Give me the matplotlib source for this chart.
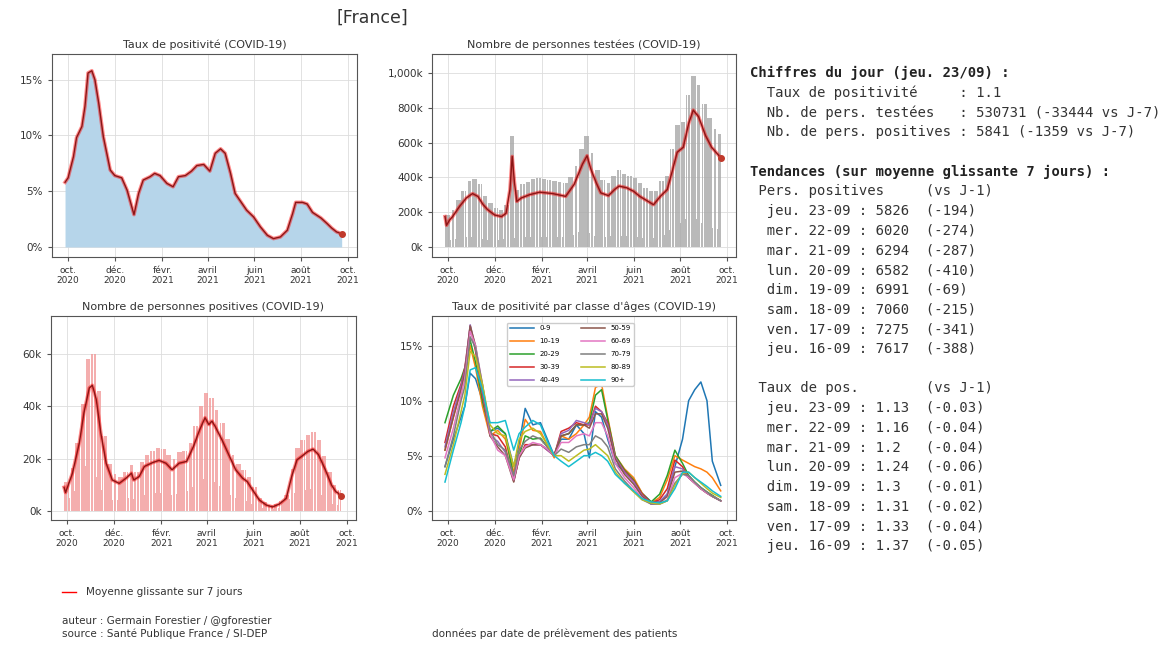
import numpy as np
import pandas as pd
import matplotlib
matplotlib.use("Agg")
import matplotlib.pyplot as plt
from matplotlib.lines import Line2D
from matplotlib.ticker import FuncFormatter

# ---- data ----
start_day = "2020-09-27"   # Sunday
end_day = "2021-09-23"     # Thursday

# weekly levels (weeks start on Sunday), thousands
tests_wd = [185, 215, 270, 320, 380, 390, 360, 295, 255, 225, 215, 240, 640, 330,
            360, 375, 390, 395, 390, 385, 380, 372, 365, 400, 465, 560, 640, 540,
            440, 385, 370, 410, 440, 420, 410, 395, 365, 340, 320, 320, 380, 410,
            560, 700, 720, 870, 980, 930, 820, 740, 680, 650]
tests_sun = [35, 40, 45, 50, 60, 60, 55, 45, 40, 40, 40, 45, 60, 50, 55, 58, 60, 60,
             60, 60, 58, 58, 56, 60, 70, 85, 90, 80, 65, 60, 58, 62, 66, 64, 62, 60,
             56, 52, 50, 50, 60, 70, 100, 130, 140, 160, 170, 160, 140, 120, 110, 105]
pos_wd = [11, 16.5, 26, 41, 58, 60, 46, 28.5, 18, 14, 13, 15, 17.5, 15, 18.5, 21.5,
          23, 24, 23.5, 21.5, 20, 22.5, 23, 26, 32.5, 40, 45, 43, 38.5, 33.5, 27.5,
          21.5, 18, 15.5, 13, 9, 5, 3.2, 2.1, 2.5, 3.7, 6.2, 16, 24, 27, 29, 30, 27,
          21, 15, 10, 7.8]
pos_sun = [3.5, 5, 7.5, 12, 17, 17, 13, 8, 5, 4, 4, 4.5, 5, 4.5, 5.5, 6, 6.5, 7, 7,
           6, 6, 6.5, 6.5, 7.5, 9, 11, 12, 12, 11, 9.5, 8, 6, 5, 4.5, 3.7, 2.5, 1.5,
           0.9, 0.6, 0.7, 1, 1.8, 4.5, 7, 7.5, 8, 8.5, 7.5, 6, 4.2, 2.8, 2.2]

# 7-day averages (date, value)
rate_dates = ["2020-09-27", "2020-10-01", "2020-10-08", "2020-10-12", "2020-10-19",
              "2020-10-23", "2020-10-27", "2020-11-01", "2020-11-05", "2020-11-10",
              "2020-11-16", "2020-11-25", "2020-12-01", "2020-12-10", "2020-12-17",
              "2020-12-26", "2021-01-01", "2021-01-07", "2021-01-16", "2021-01-22",
              "2021-01-29", "2021-02-07", "2021-02-15", "2021-02-22", "2021-03-03",
              "2021-03-11", "2021-03-18", "2021-03-27", "2021-04-04", "2021-04-11",
              "2021-04-18", "2021-04-24", "2021-05-01", "2021-05-07", "2021-05-14",
              "2021-05-22", "2021-05-31", "2021-06-09", "2021-06-18", "2021-06-26",
              "2021-07-05", "2021-07-14", "2021-07-21", "2021-07-25", "2021-08-03",
              "2021-08-09", "2021-08-16", "2021-08-27", "2021-09-04", "2021-09-10"]
rate_avg = [5.8, 6.2, 8.1, 9.8, 10.8, 12.6, 15.6, 15.8, 15.0, 12.9, 9.9, 6.9, 6.4, 6.2,
            5.1, 2.9, 4.8, 6.0, 6.3, 6.6, 6.4, 5.7, 5.4, 6.3, 6.4, 6.8, 7.3, 7.4, 6.8,
            8.4, 8.8, 8.4, 6.6, 4.8, 4.1, 3.3, 2.7, 1.8, 1.05, 0.75, 0.9, 1.5, 3.0, 4.0,
            4.0, 3.85, 3.1, 2.6, 2.1, 1.7]

tests_dates = ["2020-09-27", "2020-09-29", "2020-10-03", "2020-10-07", "2020-10-16",
               "2020-10-25", "2020-11-02", "2020-11-09", "2020-11-16", "2020-11-22",
               "2020-12-01", "2020-12-10", "2020-12-16", "2020-12-21", "2020-12-24",
               "2020-12-27", "2020-12-30", "2021-01-05", "2021-01-16", "2021-01-29",
               "2021-02-15", "2021-03-04", "2021-03-15", "2021-03-26", "2021-04-01",
               "2021-04-06", "2021-04-13", "2021-04-19", "2021-04-29", "2021-05-07",
               "2021-05-13", "2021-05-23", "2021-06-01", "2021-06-09", "2021-06-20",
               "2021-06-27", "2021-07-06", "2021-07-15", "2021-07-21", "2021-07-28",
               "2021-08-05", "2021-08-12", "2021-08-18", "2021-08-25", "2021-09-03",
               "2021-09-11", "2021-09-20", "2021-09-23"]
tests_avg = [175, 125, 155, 175, 233, 282, 307, 291, 243, 214, 184, 175, 194, 330, 520,
             369, 262, 282, 301, 315, 307, 291, 359, 476, 524, 447, 369, 311, 295, 330,
             350, 340, 320, 291, 262, 243, 291, 330, 427, 544, 573, 709, 786, 748, 641,
             573, 528, 510]

pos_dates = ["2020-09-27", "2020-09-29", "2020-10-08", "2020-10-17", "2020-10-23",
             "2020-10-30", "2020-11-03", "2020-11-08", "2020-11-14", "2020-11-21",
             "2020-11-29", "2020-12-08", "2020-12-17", "2020-12-24", "2020-12-27",
             "2021-01-03", "2021-01-10", "2021-01-21", "2021-01-29", "2021-02-07",
             "2021-02-15", "2021-02-24", "2021-03-06", "2021-03-15", "2021-03-23",
             "2021-03-30", "2021-04-04", "2021-04-08", "2021-04-12", "2021-04-21",
             "2021-05-01", "2021-05-09", "2021-05-18", "2021-05-24", "2021-05-31",
             "2021-06-09", "2021-06-18", "2021-06-26", "2021-07-05", "2021-07-14",
             "2021-07-21", "2021-07-28", "2021-08-03", "2021-08-11", "2021-08-18",
             "2021-08-25", "2021-09-03", "2021-09-11"]
pos_avg = [9, 7, 14.4, 26, 37.5, 47, 48, 42.7, 29.8, 18.2, 11.8, 10.5, 12.5, 14.4, 11.8,
           13.1, 17, 18.5, 19.3, 18.2, 15.7, 18.2, 18.9, 24.7, 31, 35.6, 33, 34.3, 32.4,
           27.2, 20.8, 15.7, 12.5, 11.2, 8, 4.1, 2.2, 1.5, 2.6, 4.8, 13.1, 19.5, 20.8,
           22.7, 23.6, 21.5, 15.7, 9.9]

# age groups, positivity (%)
age_dates = ["2020-09-27", "2020-10-08", "2020-10-18", "2020-10-23", "2020-10-30",
             "2020-11-06", "2020-11-15", "2020-11-25", "2020-12-05", "2020-12-15",
             "2020-12-26", "2021-01-02", "2021-01-10", "2021-01-20", "2021-01-30",
             "2021-02-08", "2021-02-17", "2021-02-26", "2021-03-08", "2021-03-18",
             "2021-03-28", "2021-04-04", "2021-04-12", "2021-04-20", "2021-04-28",
             "2021-05-08", "2021-05-20", "2021-06-01", "2021-06-12", "2021-06-24",
             "2021-07-05", "2021-07-15", "2021-07-25", "2021-08-04", "2021-08-12",
             "2021-08-20", "2021-08-28", "2021-09-05", "2021-09-12", "2021-09-23"]
age_labels = ["0-9", "10-19", "20-29", "30-39", "40-49",
              "50-59", "60-69", "70-79", "80-89", "90+"]
r0 = [4.0, 6.5, 8.5, 9.5, 12.5, 12.0, 10.0, 7.2, 7.5, 7.0, 4.0, 6.0, 9.3, 7.8, 8.0, 6.5,
      5.0, 6.5, 6.5, 7.8, 7.0, 4.8, 9.0, 8.5, 6.5, 4.3, 3.5, 2.8, 1.6, 0.8, 0.8, 1.5,
      4.0, 6.5, 10.0, 11.0, 11.7, 10.0, 4.5, 2.3]
r10 = [5.5, 8.5, 11.0, 12.5, 15.0, 13.0, 9.5, 6.8, 7.3, 6.5, 3.5, 5.5, 8.3, 7.3, 7.2, 6.0,
       4.8, 6.8, 6.5, 7.0, 7.8, 8.5, 11.2, 11.5, 8.5, 5.0, 3.8, 3.0, 1.6, 0.7, 1.2, 2.8,
       5.0, 4.6, 4.3, 4.0, 3.8, 3.5, 3.0, 1.8]
r20 = [8.0, 10.5, 12.0, 13.0, 15.5, 13.5, 10.0, 7.2, 7.7, 7.0, 3.0, 5.0, 6.8, 6.5, 6.6,
       5.8, 5.0, 6.8, 7.0, 7.8, 7.8, 8.0, 10.5, 11.0, 8.3, 5.0, 3.7, 2.8, 1.5, 0.8, 1.5,
       3.2, 5.5, 4.3, 3.2, 2.6, 2.1, 1.7, 1.4, 0.9]
r30 = [6.2, 9.5, 11.5, 13.0, 16.8, 14.5, 10.5, 7.0, 6.8, 5.8, 2.7, 4.8, 6.0, 6.0, 6.0,
       5.5, 5.0, 7.2, 7.5, 8.0, 7.8, 7.8, 9.5, 9.0, 8.0, 4.8, 3.6, 2.7, 1.5, 0.7, 1.0,
       2.0, 4.6, 4.0, 3.0, 2.5, 2.0, 1.6, 1.3, 0.9]
r40 = [5.8, 9.0, 11.3, 12.8, 16.9, 14.8, 10.8, 6.8, 6.3, 5.3, 2.7, 4.8, 5.8, 6.0, 6.0,
       5.5, 5.0, 7.0, 7.3, 8.2, 8.0, 7.8, 9.3, 9.0, 7.8, 4.8, 3.5, 2.6, 1.4, 0.6, 0.8,
       1.5, 4.0, 3.8, 3.0, 2.5, 2.0, 1.6, 1.3, 0.9]
r50 = [5.5, 8.5, 11.0, 12.5, 16.8, 15.0, 11.0, 6.8, 5.8, 5.0, 2.6, 4.8, 5.7, 6.0, 6.0,
       5.6, 5.1, 6.8, 7.0, 7.8, 7.8, 7.5, 8.8, 8.8, 7.5, 4.7, 3.3, 2.4, 1.3, 0.6, 0.7,
       1.3, 3.5, 3.6, 3.0, 2.5, 2.0, 1.6, 1.3, 0.9]
r60 = [4.8, 7.5, 10.5, 12.0, 16.3, 15.0, 11.5, 7.0, 5.5, 5.0, 2.8, 5.0, 5.8, 6.2, 6.0,
       5.6, 5.0, 6.2, 6.2, 6.8, 7.0, 6.8, 8.0, 8.0, 6.8, 4.3, 3.0, 2.1, 1.1, 0.6, 0.6,
       1.0, 3.0, 3.4, 3.0, 2.5, 2.0, 1.6, 1.3, 0.9]
r70 = [4.0, 6.8, 10.0, 11.3, 15.8, 14.8, 11.5, 7.3, 6.0, 5.5, 3.2, 5.5, 6.3, 6.8, 6.5,
       5.8, 5.0, 5.6, 5.3, 5.8, 6.0, 6.0, 6.8, 6.5, 5.8, 3.8, 2.7, 1.8, 1.0, 0.6, 0.6,
       0.9, 2.5, 3.3, 3.2, 2.6, 2.1, 1.7, 1.3, 0.9]
r80 = [3.3, 6.0, 9.0, 10.5, 14.5, 14.0, 11.5, 7.8, 7.0, 6.8, 4.0, 6.5, 7.2, 7.5, 7.0,
       6.0, 5.0, 5.0, 4.5, 5.0, 5.5, 5.6, 6.0, 5.5, 5.0, 3.5, 2.5, 1.7, 1.0, 0.7, 0.6,
       0.9, 2.3, 3.4, 3.5, 3.0, 2.5, 2.0, 1.6, 1.2]
r90 = [2.6, 5.5, 8.0, 9.5, 12.8, 13.0, 11.0, 8.0, 8.0, 8.2, 5.5, 7.0, 7.6, 8.2, 7.8,
       6.3, 5.0, 4.5, 4.0, 4.5, 5.0, 5.0, 5.3, 5.0, 4.5, 3.3, 2.5, 1.8, 1.1, 0.8, 0.7,
       0.9, 2.0, 3.5, 3.5, 3.0, 2.6, 2.2, 1.8, 1.3]

# text panel
trend_days = ["2021-09-23", "2021-09-22", "2021-09-21", "2021-09-20",
              "2021-09-19", "2021-09-18", "2021-09-17", "2021-09-16"]
trend_labels = ["jeu. 23-09", "mer. 22-09", "mar. 21-09", "lun. 20-09",
                "dim. 19-09", "sam. 18-09", "ven. 17-09", "jeu. 16-09"]
trend_pos = [5826, 6020, 6294, 6582, 6991, 7060, 7275, 7617]
trend_pos_diff = [-194, -274, -287, -410, -69, -215, -341, -388]
trend_rate = [1.13, 1.16, 1.2, 1.24, 1.3, 1.31, 1.33, 1.37]
trend_rate_diff = [-0.03, -0.04, -0.04, -0.06, -0.01, -0.02, -0.04, -0.05]

xtick_dates = ["2020-10-01", "2020-12-01", "2021-02-01", "2021-04-01",
               "2021-06-01", "2021-08-01", "2021-10-01"]
xtick_labels = ["oct.\n2020", "déc.\n2020", "févr.\n2021", "avril\n2021",
                "juin\n2021", "août\n2021", "oct.\n2021"]

# ---- daily bars from weekly levels ----
days = pd.date_range(start_day, end_day, freq="D")
week = np.arange(len(days)) // 7
sunday = days.dayofweek == 6
tests_daily = np.where(sunday, np.array(tests_sun)[week], np.array(tests_wd)[week]) * 1000
pos_daily = np.where(sunday, np.array(pos_sun)[week], np.array(pos_wd)[week]) * 1000

tail = pd.to_datetime(trend_days[::-1])
rate_x = np.concatenate([pd.to_datetime(rate_dates), tail])
rate_y = np.concatenate([rate_avg, trend_rate[::-1]])
pos_x = np.concatenate([pd.to_datetime(pos_dates), tail])
pos_y = np.concatenate([np.array(pos_avg) * 1000, trend_pos[::-1]])
tests_x = pd.to_datetime(tests_dates)
tests_y = np.array(tests_avg) * 1000

W, H = 1175, 648
fig = plt.figure(figsize=(W / 100, H / 100), dpi=100)


def box(x0, y0, x1, y1):
    return [x0 / W, 1 - y1 / H, (x1 - x0) / W, (y1 - y0) / H]


def style(ax, title):
    ax.set_title(title, fontsize=8, pad=4, color="#333333")
    ax.grid(True, color="#dddddd", lw=0.6)
    ax.set_axisbelow(True)
    for s in ax.spines.values():
        s.set_color("#555555")
    ax.set_xticks(pd.to_datetime(xtick_dates))
    ax.set_xticklabels(xtick_labels, fontsize=6.5, color="#333333")
    ax.tick_params(axis="y", labelsize=7.5, colors="#333333")
    ax.tick_params(axis="both", color="#555555", length=3)
    ax.set_xlim(pd.Timestamp("2020-09-10"), pd.Timestamp("2021-10-13"))


def red_line(ax, x, y):
    ax.plot(x, y, color="red", lw=2.6, alpha=0.45)
    ax.plot(x, y, color="#8c1515", lw=1.0)
    ax.plot(x[-1:], y[-1:], "o", color="#c0392b", ms=4)


pct = FuncFormatter(lambda v, p: f"{v:.0f}%")
kfmt = FuncFormatter(lambda v, p: f"{v / 1000:,.0f}k")

ax1 = fig.add_axes(box(52, 54, 357, 257))
ax1.fill_between(rate_x, 0, rate_y, color="#b6d5ea", lw=0)
red_line(ax1, rate_x, rate_y)
ax1.set_ylim(-0.9, 17.3)
ax1.set_yticks([0, 5, 10, 15])
ax1.yaxis.set_major_formatter(pct)
style(ax1, "Taux de positivité (COVID-19)")

ax2 = fig.add_axes(box(432, 54, 736, 257))
ax2.bar(days, tests_daily, width=0.85, color="#a8a8a8", alpha=0.8, lw=0)
red_line(ax2, tests_x, tests_y)
ax2.set_ylim(-57000, 1108000)
ax2.set_yticks([0, 200000, 400000, 600000, 800000, 1000000])
ax2.yaxis.set_major_formatter(kfmt)
style(ax2, "Nombre de personnes testées (COVID-19)")

ax3 = fig.add_axes(box(51, 316, 356, 520))
ax3.bar(days, pos_daily, width=0.85, color="#f29a9a", alpha=0.8, lw=0)
red_line(ax3, pos_x, pos_y)
ax3.set_ylim(-3500, 74500)
ax3.set_yticks([0, 20000, 40000, 60000])
ax3.yaxis.set_major_formatter(kfmt)
style(ax3, "Nombre de personnes positives (COVID-19)")

ax4 = fig.add_axes(box(432, 316, 736, 520))
age_x = pd.to_datetime(age_dates)
for lab, ser in zip(age_labels, [r0, r10, r20, r30, r40, r50, r60, r70, r80, r90]):
    ax4.plot(age_x, ser, lw=1.1, label=lab)
ax4.set_ylim(-0.85, 17.7)
ax4.set_yticks([0, 5, 10, 15])
ax4.yaxis.set_major_formatter(pct)
ax4.legend(ncol=2, fontsize=5, loc="upper center", bbox_to_anchor=(0.455, 0.985),
           labelspacing=1.0, handlelength=3.5, columnspacing=3.0, framealpha=1)
style(ax4, "Taux de positivité par classe d'âges (COVID-19)")

fig.text(372 / W, 1 - 18 / H, "[France]", fontsize=12.5, ha="center", va="center",
         color="#333333")

# right text block
lines = ["Chiffres du jour (jeu. 23/09) :",
         "  Taux de positivité     : 1.1",
         "  Nb. de pers. testées   : 530731 (-33444 vs J-7)",
         "  Nb. de pers. positives : 5841 (-1359 vs J-7)",
         "",
         "Tendances (sur moyenne glissante 7 jours) :",
         " Pers. positives     (vs J-1)"]
for lab, v, d in zip(trend_labels, trend_pos, trend_pos_diff):
    lines.append(f"  {lab} : {v:<4}  ({d})")
lines += ["", " Taux de pos.        (vs J-1)"]
for lab, v, d in zip(trend_labels, trend_rate, trend_rate_diff):
    lines.append(f"  {lab} : {v:<4}  ({d})")
for i, t in enumerate(lines):
    bold = t.startswith("Chiffres") or t.startswith("Tendances")
    fig.text(750 / W, 1 - (73 + 19.7 * i) / H, t, family="DejaVu Sans Mono",
             fontsize=10, weight="bold" if bold else "normal", va="center",
             color="#222222" if bold else "#333333")

# footer
fig.add_artist(Line2D([62 / W, 76 / W], [1 - 592 / H] * 2, color="red", lw=1))
fig.text(86 / W, 1 - 592 / H, "Moyenne glissante sur 7 jours", fontsize=7.5,
         va="center", color="#333333")
fig.text(62 / W, 1 - 621 / H, "auteur : Germain Forestier / @gforestier",
         fontsize=7.5, va="center", color="#333333")
fig.text(62 / W, 1 - 634 / H, "source : Santé Publique France / SI-DEP",
         fontsize=7.5, va="center", color="#333333")
fig.text(432 / W, 1 - 634 / H, "données par date de prélèvement des patients",
         fontsize=7.5, va="center", color="#333333")

fig.savefig("out.png", dpi=100)
